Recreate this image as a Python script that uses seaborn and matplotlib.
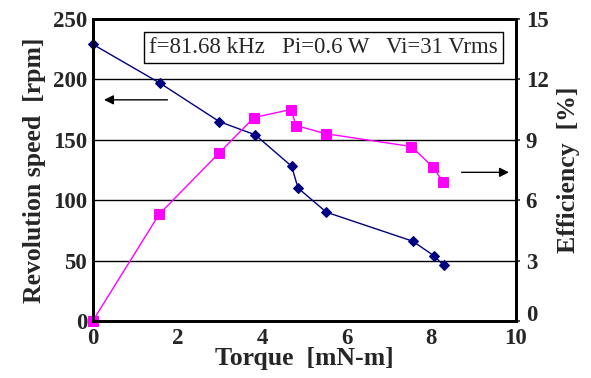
"""
Revolution speed and efficiency vs torque (dual axis).
"""
import matplotlib
matplotlib.use("Agg")
import seaborn as sns
import matplotlib.pyplot as plt
import matplotlib.transforms as mtransforms

# speed data
torque_speed = [0.0, 1.58, 2.99, 3.84, 4.70, 4.85, 5.52, 7.56, 8.06, 8.29]
speed_rpm = [229, 197, 165, 154, 128, 110, 90, 66, 54, 46]

# efficiency data
torque_eff = [0.0, 1.57, 2.99, 3.81, 4.68, 4.81, 5.50, 7.53, 8.05, 8.27]
eff_pct = [0.0, 5.3, 8.35, 10.1, 10.5, 9.7, 9.3, 8.66, 7.62, 6.92]

x_ticks = [0, 2, 4, 6, 8, 10]
left_ticks = [0, 50, 100, 150, 200, 250]
right_ticks = [0, 3, 6, 9, 12, 15]

sns.set_style("white")
plt.rcParams['font.family'] = ['Liberation Serif', 'DejaVu Serif']

fig = plt.figure(figsize=(5.91, 3.78), dpi=100)
ax = fig.add_axes([0.157, 0.151, 0.716, 0.799])
ax2 = ax.twinx()

# gridlines first so data sits on top
for yv in [50, 100, 150, 200]:
    ax.axhline(yv, color="black", lw=1.0, zorder=0)

sns.lineplot(x=torque_speed, y=speed_rpm, ax=ax, color="#000080", marker="D",
             markersize=5.5, markeredgecolor="#000080", lw=1.0, clip_on=False)
sns.lineplot(x=torque_eff, y=eff_pct, ax=ax2, color="#FF00FF", marker="s",
             markersize=6.5, markeredgecolor="#FF00FF", lw=1.0, clip_on=False)

ax.set_xlim(0, 10)
ax.set_ylim(0, 250)
ax2.set_ylim(0, 15)
ax.set_xticks(x_ticks)
ax.set_yticks(left_ticks)
ax2.set_yticks(right_ticks)

tick_font = dict(fontsize=16.5, fontweight="bold")
ax.set_xticklabels([str(t) for t in x_ticks], **tick_font)
ax.set_yticklabels([str(t) for t in left_ticks], **tick_font)
ax2.set_yticklabels([str(t) for t in right_ticks], **tick_font)

ax.tick_params(axis="x", direction="in", length=5, width=1.5, pad=5)
ax.tick_params(axis="y", direction="out", length=0, pad=4)
ax2.tick_params(axis="y", direction="out", length=3, width=1.2, pad=4)
# right-hand zero sits just above the "10", as in the original
zero_lbl = ax2.get_yticklabels()[0]
zero_lbl.set_va("bottom")
zero_lbl.set_transform(zero_lbl.get_transform() +
                       mtransforms.ScaledTranslation(0, -4 / 72, fig.dpi_scale_trans))

for a in (ax, ax2):
    for s in a.spines.values():
        s.set_linewidth(2.0)
        s.set_color("black")

ax.set_xlabel("Torque  [mN-m]", fontsize=18.5, fontweight="bold", labelpad=-1)
ax.set_ylabel("Revolution speed  [rpm]", fontsize=18.5, fontweight="bold", labelpad=5)
ax2.set_ylabel("Efficiency  [%]", fontsize=18.5, fontweight="bold", labelpad=6)

ax.text(5.46, 226, "f=81.68 kHz   Pi=0.6 W   Vi=31 Vrms", fontsize=16.5,
        ha="center", va="center",
        bbox=dict(boxstyle="square,pad=0.22", fc="white", ec="black", lw=1.0))

ax.annotate("", xy=(0.2, 183), xytext=(1.83, 183),
            arrowprops=dict(arrowstyle="-|>", color="black", lw=1.0, mutation_scale=14))
ax.annotate("", xy=(9.9, 123), xytext=(8.65, 123),
            arrowprops=dict(arrowstyle="-|>", color="black", lw=1.0, mutation_scale=14))

fig.savefig("out.png", dpi=100)
